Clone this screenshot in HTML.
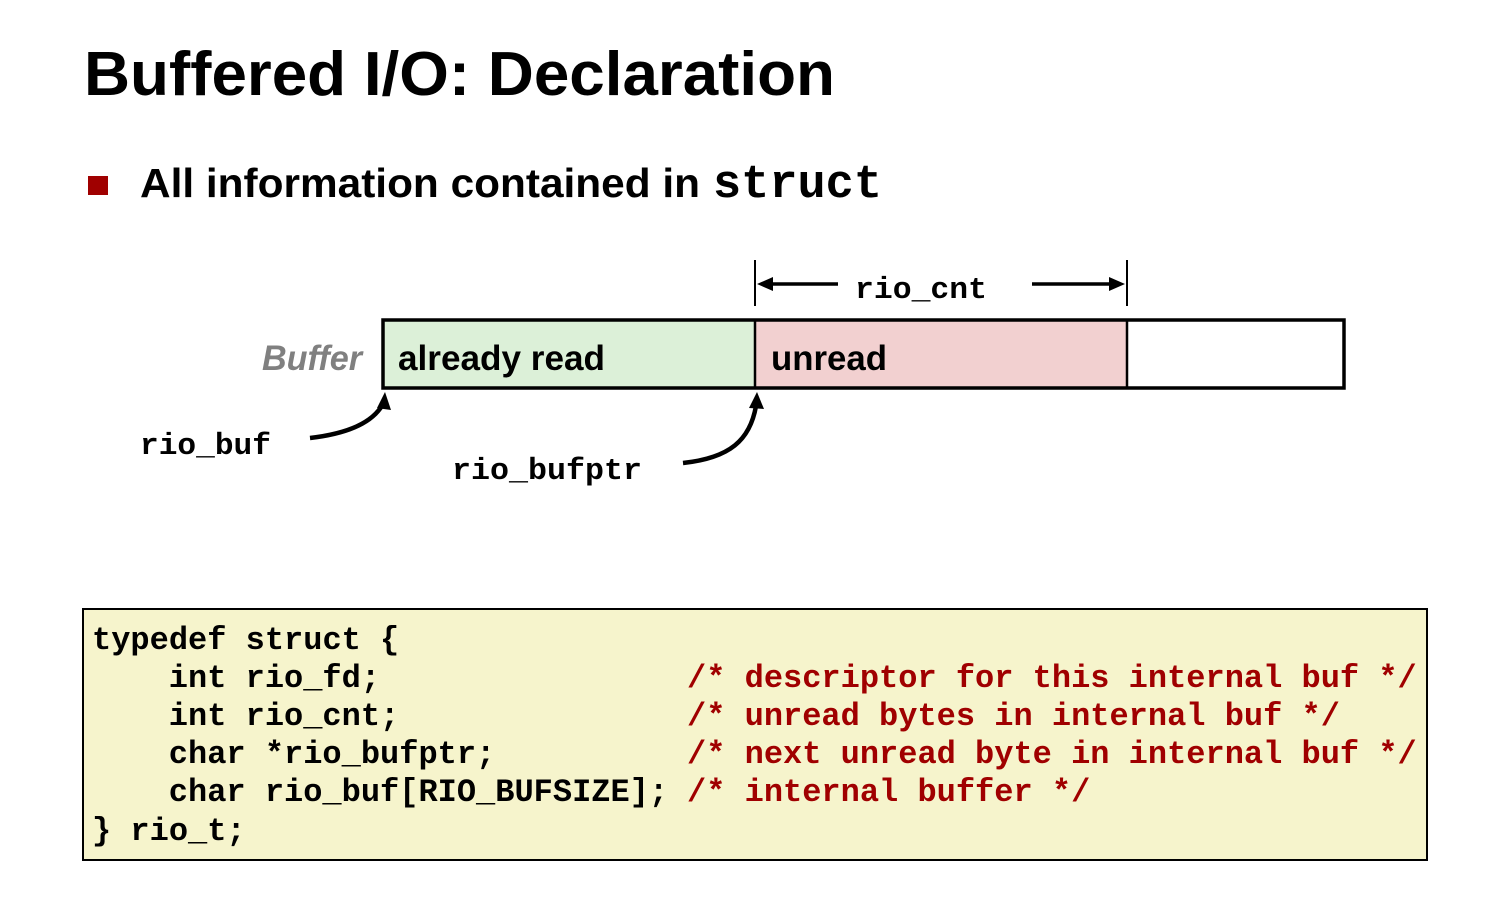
<!DOCTYPE html>
<html><head><meta charset="utf-8"><style>
html,body{margin:0;padding:0;background:#fff;}
svg{display:block;}
.code text{white-space:pre;}
</style></head><body>
<svg width="1490" height="899" viewBox="0 0 1490 899" xmlns="http://www.w3.org/2000/svg">
<text x="84" y="95" font-family="Liberation Sans, sans-serif" font-weight="bold" font-size="62" textLength="751" lengthAdjust="spacingAndGlyphs">Buffered I/O: Declaration</text>
<rect x="88" y="176" width="20" height="19" fill="#a00000"/>
<text x="140" y="197" font-family="Liberation Sans, sans-serif" font-weight="bold" font-size="41" textLength="560" lengthAdjust="spacingAndGlyphs">All information contained in</text>
<text x="713" y="197" font-family="Liberation Mono, monospace" font-weight="bold" font-size="47" textLength="169" lengthAdjust="spacingAndGlyphs">struct</text>

<rect x="383" y="320" width="372" height="68" fill="#dcf0d8"/>
<rect x="755" y="320" width="372" height="68" fill="#f2d0d0"/>
<rect x="383" y="320" width="961" height="68" fill="none" stroke="#000" stroke-width="3.5"/>
<line x1="755" y1="320" x2="755" y2="388" stroke="#000" stroke-width="2.5"/>
<line x1="1127" y1="320" x2="1127" y2="388" stroke="#000" stroke-width="2.5"/>
<text x="262" y="370" font-family="Liberation Sans, sans-serif" font-style="italic" font-weight="bold" font-size="35" fill="#808080" textLength="100" lengthAdjust="spacingAndGlyphs">Buffer</text>
<text x="398" y="370" font-family="Liberation Sans, sans-serif" font-weight="bold" font-size="35" textLength="207" lengthAdjust="spacingAndGlyphs">already read</text>
<text x="771" y="370" font-family="Liberation Sans, sans-serif" font-weight="bold" font-size="35" textLength="116" lengthAdjust="spacingAndGlyphs">unread</text>

<line x1="755" y1="260" x2="755" y2="306" stroke="#000" stroke-width="2"/>
<line x1="1127" y1="260" x2="1127" y2="306" stroke="#000" stroke-width="2"/>
<line x1="838" y1="284" x2="768" y2="284" stroke="#000" stroke-width="3.5"/>
<path d="M757,284 L773,277 L773,291 z" fill="#000"/>
<line x1="1032" y1="284" x2="1114" y2="284" stroke="#000" stroke-width="3.5"/>
<path d="M1125,284 L1109,277 L1109,291 z" fill="#000"/>
<text x="855" y="298" font-family="Liberation Mono, monospace" font-weight="bold" font-size="31" textLength="132" lengthAdjust="spacingAndGlyphs">rio_cnt</text>

<text x="140" y="454" font-family="Liberation Mono, monospace" font-weight="bold" font-size="31" textLength="131" lengthAdjust="spacingAndGlyphs">rio_buf</text>
<text x="452" y="479" font-family="Liberation Mono, monospace" font-weight="bold" font-size="31" textLength="190" lengthAdjust="spacingAndGlyphs">rio_bufptr</text>
<path d="M310,438 C345,434 372,424 383,404" fill="none" stroke="#000" stroke-width="4.5"/>
<path d="M385,392 L377,408 L391,410 z" fill="#000"/>
<path d="M683,463 C730,458 750,440 756,406" fill="none" stroke="#000" stroke-width="4.5"/>
<path d="M757,392 L749,408 L764,409 z" fill="#000"/>

<rect x="83" y="609" width="1344" height="251" fill="#f6f4cc" stroke="#000" stroke-width="2"/>
<g class="code" font-family="Liberation Mono, monospace" font-weight="bold" font-size="32">
<text x="92" y="649">typedef struct {</text>
<text x="168.8" y="687">int rio_fd;</text>
<text x="168.8" y="725">int rio_cnt;</text>
<text x="168.8" y="763">char *rio_bufptr;</text>
<text x="168.8" y="801">char rio_buf[RIO_BUFSIZE];</text>
<text x="92" y="840">} rio_t;</text>
<g fill="#a00000">
<text x="687" y="687">/* descriptor for this internal buf */</text>
<text x="687" y="725">/* unread bytes in internal buf */</text>
<text x="687" y="763">/* next unread byte in internal buf */</text>
<text x="687" y="801">/* internal buffer */</text>
</g>
</g>
</svg>
</body></html>
